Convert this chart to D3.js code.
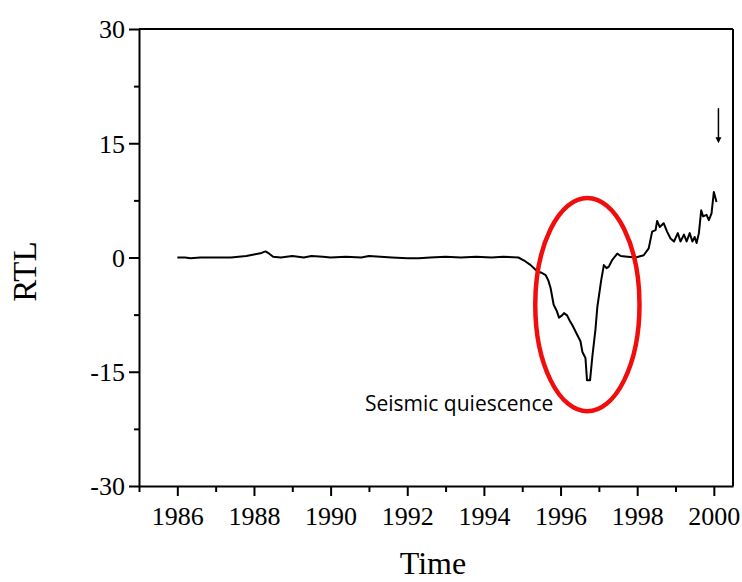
<!DOCTYPE html>
<html>
<head>
<meta charset="utf-8">
<script src="https://cdn.jsdelivr.net/npm/d3@7"></script>
<style>
  html, body { margin: 0; padding: 0; background: #fff; }
  svg { display: block; }
</style>
</head>
<body>
<div id="chart"></div>
<script>
// RTL time series (year, RTL value)
const years = [
  1986.0, 1986.2, 1986.35, 1986.6, 1987.0, 1987.4, 1987.8, 1988.0, 1988.2, 1988.3,
  1988.4, 1988.5, 1988.7, 1989.0, 1989.3, 1989.5, 1989.8, 1990.0, 1990.4, 1990.8,
  1991.0, 1991.3, 1991.6, 1992.0, 1992.3, 1992.6, 1993.0, 1993.4, 1993.8, 1994.2,
  1994.5, 1994.9, 1995.05, 1995.22, 1995.39, 1995.5, 1995.61, 1995.68, 1995.74, 1995.82,
  1995.9, 1995.96, 1996.04, 1996.09, 1996.17, 1996.24, 1996.31, 1996.44, 1996.52, 1996.57,
  1996.65, 1996.69, 1996.77, 1996.83, 1996.91, 1996.96, 1997.06, 1997.13, 1997.2, 1997.26,
  1997.35, 1997.48, 1997.57, 1997.75, 1997.96, 1998.17, 1998.3, 1998.39, 1998.48, 1998.52,
  1998.59, 1998.69, 1998.78, 1998.87, 1998.96, 1999.06, 1999.13, 1999.22, 1999.29, 1999.37,
  1999.44, 1999.5, 1999.55, 1999.61, 1999.67, 1999.72, 1999.81, 1999.87, 1999.94, 2000.0,
  2000.07
];
const rtl = [
  0.0, 0.0, -0.1, 0.0, 0.0, 0.0, 0.2, 0.4, 0.6, 0.8,
  0.5, 0.1, 0.0, 0.2, 0.0, 0.2, 0.1, 0.0, 0.1, 0.0,
  0.2, 0.1, 0.0, -0.1, -0.1, 0.0, 0.1, 0.0, 0.1, 0.0,
  0.1, 0.0, -0.4, -1.0, -1.8, -2.0, -2.3, -3.0, -4.0, -6.2,
  -7.0, -7.9, -7.6, -7.3, -7.6, -8.3, -8.9, -10.2, -11.0, -12.4,
  -13.2, -16.1, -16.1, -13.0, -9.5, -6.5, -3.0, -1.0, -1.4, -1.2,
  -0.3, 0.5, 0.2, 0.1, 0.0, 0.3, 1.2, 3.4, 3.6, 4.8,
  4.0, 4.5, 3.4, 2.5, 2.1, 3.2, 2.1, 3.0, 2.1, 3.2,
  2.1, 2.7, 1.9, 3.2, 6.2, 5.4, 5.6, 4.9, 5.8, 8.6,
  7.3
];

const xMajorTicks = [1986, 1988, 1990, 1992, 1994, 1996, 1998, 2000];
const xMinorTicks = [1985, 1987, 1989, 1991, 1993, 1995, 1997, 1999];
const yMajorTicks = [-30, -15, 0, 15, 30];
const yMinorTicks = [-22.5, -7.5, 7.5, 22.5];

const xLabel = "Time";
const yLabel = "RTL";
const noteText = "Seismic quiescence";

// Highlighted quiescence window (centre year/value and half-extents)
const noteCenter = [1996.70, -6.2];
const noteRadius = [1.36, 14.0];
// Arrow marking the end of the series
const arrowYear = 2000.12;
const arrowFrom = 19.6;
const arrowTo = 15.0;

const W = 742, H = 582;
const margin = { left: 139, right: 9, top: 29, bottom: 96 };
const innerW = W - margin.left - margin.right;
const innerH = H - margin.top - margin.bottom;

const svg = d3.select("#chart").append("svg")
  .attr("width", W).attr("height", H);

const g = svg.append("g").attr("transform", `translate(${margin.left},${margin.top})`);

const x = d3.scaleLinear().domain([1985, 2000.5]).range([0, innerW]);
const y = d3.scaleLinear().domain([-30, 30]).range([innerH, 0]);

const serif = "'Liberation Serif', 'Times New Roman', serif";
const plain = d => String(d);

// Frame: top and right edges
g.append("line").attr("x1", 0).attr("x2", innerW).attr("y1", 0).attr("y2", 0)
  .attr("stroke", "#000").attr("stroke-width", 2);
g.append("line").attr("x1", innerW).attr("x2", innerW).attr("y1", 0).attr("y2", innerH)
  .attr("stroke", "#000").attr("stroke-width", 2);

// Bottom axis
const xAxis = g.append("g").attr("transform", `translate(0,${innerH})`)
  .call(d3.axisBottom(x).tickValues(xMajorTicks).tickSize(10).tickSizeOuter(0)
    .tickFormat(plain));
xAxis.append("g").call(d3.axisBottom(x).tickValues(xMinorTicks).tickSize(6).tickFormat(""))
  .select(".domain").remove();

// Left axis
const yAxis = g.append("g")
  .call(d3.axisLeft(y).tickValues(yMajorTicks).tickSize(10).tickSizeOuter(0)
    .tickFormat(plain));
yAxis.append("g").call(d3.axisLeft(y).tickValues(yMinorTicks).tickSize(5).tickFormat(""))
  .select(".domain").remove();

[xAxis, yAxis].forEach(a => {
  a.selectAll(".domain").attr("stroke", "#000").attr("stroke-width", 2);
  a.selectAll(".tick line").attr("stroke", "#000").attr("stroke-width", 2);
  a.selectAll(".tick text").attr("fill", "#000")
    .style("font-family", serif).style("font-size", "26px");
});
xAxis.selectAll(".tick text").attr("y", 39).attr("dy", 0);
yAxis.selectAll(".tick text").attr("x", -14).attr("dy", "0.34em");

// Axis titles
svg.append("text")
  .attr("transform", `translate(36,${margin.top + innerH / 2 + 14}) rotate(-90)`)
  .attr("text-anchor", "middle")
  .style("font-family", serif).style("font-size", "33px")
  .text(yLabel);
svg.append("text")
  .attr("x", 433).attr("y", 574)
  .attr("text-anchor", "middle")
  .style("font-family", serif).style("font-size", "32px")
  .text(xLabel);

// Data line
const data = years.map((yr, i) => [yr, rtl[i]]);
g.append("path")
  .datum(data)
  .attr("fill", "none")
  .attr("stroke", "#000")
  .attr("stroke-width", 2)
  .attr("stroke-linejoin", "round")
  .attr("d", d3.line().x(d => x(d[0])).y(d => y(d[1])));

// Quiescence highlight
g.append("ellipse")
  .attr("cx", x(noteCenter[0])).attr("cy", y(noteCenter[1]))
  .attr("rx", x(noteCenter[0] + noteRadius[0]) - x(noteCenter[0]))
  .attr("ry", y(noteCenter[1] - noteRadius[1]) - y(noteCenter[1]))
  .attr("fill", "none").attr("stroke", "#f20d0d").attr("stroke-width", 4.5);

g.append("text")
  .attr("x", 365 - margin.left).attr("y", 411 - margin.top)
  .style("font-family", "'Open Sans', 'Noto Sans', sans-serif")
  .style("font-size", "21px")
  .attr("fill", "#000")
  .text(noteText);

// Arrow
const ax = x(arrowYear);
g.append("line")
  .attr("x1", ax).attr("x2", ax)
  .attr("y1", y(arrowFrom)).attr("y2", y(arrowTo) - 5)
  .attr("stroke", "#000").attr("stroke-width", 1.5);
g.append("path")
  .attr("d", `M${ax - 3},${y(arrowTo) - 6} L${ax + 3},${y(arrowTo) - 6} L${ax},${y(arrowTo)} Z`)
  .attr("fill", "#000");
</script>
</body>
</html>
